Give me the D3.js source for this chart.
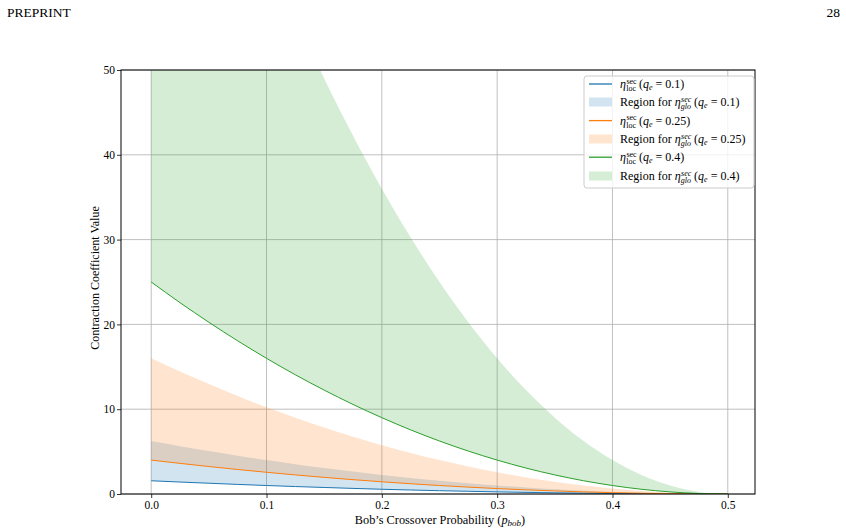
<!DOCTYPE html>
<html><head><meta charset="utf-8">
<script src="https://cdn.jsdelivr.net/npm/d3@7"></script>
<style>
body{margin:0;background:#fff;}
svg text{font-family:"Liberation Serif","Times New Roman",serif;fill:#000;}
</style></head>
<body><svg id="c" width="846" height="532"></svg>
<script>
// Bob's crossover probability
const pBob = [0,0.025,0.05,0.075,0.1,0.125,0.15,0.175,0.2,0.225,0.25,0.275,0.3,0.325,0.35,0.375,0.4,0.425,0.45,0.475,0.5];
// eta_loc^sec curves
const locQ01  = [1.56,1.41,1.27,1.13,1.00,0.88,0.77,0.66,0.56,0.47,0.39,0.32,0.25,0.19,0.14,0.10,0.06,0.04,0.02,0.00,0];
const locQ025 = [4,3.61,3.24,2.89,2.56,2.25,1.96,1.69,1.44,1.21,1,0.81,0.64,0.49,0.36,0.25,0.16,0.09,0.04,0.01,0];
const locQ04  = [25,22.56,20.25,18.06,16,14.06,12.25,10.56,9,7.56,6.25,5.06,4,3.06,2.25,1.56,1,0.56,0.25,0.06,0];
// upper edges of eta_glo^sec regions
const gloUpQ01  = [6.25,5.64,5.06,4.52,4.0,3.52,3.06,2.64,2.25,1.89,1.56,1.27,1.0,0.77,0.56,0.39,0.25,0.14,0.06,0.02,0];
const gloUpQ025 = [16,14.44,12.96,11.56,10.24,9,7.84,6.76,5.76,4.84,4,3.24,2.56,1.96,1.44,1,0.64,0.36,0.16,0.04,0];
const gloUpQ04  = [100,90.25,81,72.25,64,56.25,49,42.25,36,30.25,25,20.25,16,12.25,9,6.25,4,2.25,1,0.25,0];
const xTicks = [0,0.1,0.2,0.3,0.4,0.5];
const yTicks = [0,10,20,30,40,50];
const qLabels = ["0.1","0.25","0.4"];
const colors = ["#1f77b4","#ff7f0e","#2ca02c"];

const svg = d3.select("#c");
const L=121,R=755,T=70,B=494;
const x = d3.scaleLinear().domain([-0.0262,0.5236]).range([L,R]);
const y = d3.scaleLinear().domain([0,50]).range([B,T]);

svg.append("text").attr("x",7).attr("y",17).attr("font-size",13.5).text("PREPRINT");
svg.append("text").attr("x",840).attr("y",17).attr("font-size",13.5).attr("text-anchor","end").text("28");

svg.append("defs").append("clipPath").attr("id","clip").append("rect")
  .attr("x",L).attr("y",T).attr("width",R-L).attr("height",B-T);

// grid
const g = svg.append("g");
g.selectAll(".gx").data(xTicks).join("line").attr("x1",d=>x(d)).attr("x2",d=>x(d))
  .attr("y1",T).attr("y2",B).attr("stroke","#b0b0b0").attr("stroke-width",0.8);
g.selectAll(".gy").data(yTicks).join("line").attr("y1",d=>y(d)).attr("y2",d=>y(d))
  .attr("x1",L).attr("x2",R).attr("stroke","#b0b0b0").attr("stroke-width",0.8);

const plot = svg.append("g").attr("clip-path","url(#clip)");
const sets = [[locQ01,gloUpQ01],[locQ025,gloUpQ025],[locQ04,gloUpQ04]];
const curve = d3.curveMonotoneX;
sets.forEach(([lo,up],i)=>{
  const area = d3.area().x((d,j)=>x(pBob[j])).y0((d,j)=>y(lo[j])).y1((d,j)=>y(up[j])).curve(curve);
  const line = d3.line().x((d,j)=>x(pBob[j])).y((d,j)=>y(lo[j])).curve(curve);
  plot.append("path").datum(pBob).attr("d",line).attr("fill","none").attr("stroke",colors[i]).attr("stroke-width",1);
  plot.append("path").datum(pBob).attr("d",area).attr("fill",colors[i]).attr("fill-opacity",0.2);
});

// axes
const xa = svg.append("g").attr("transform",`translate(0,${B})`)
  .call(d3.axisBottom(x).tickValues(xTicks).tickFormat(d3.format(".1f")).tickSize(4).tickSizeOuter(0));
const ya = svg.append("g").attr("transform",`translate(${L},0)`)
  .call(d3.axisLeft(y).tickValues(yTicks).tickFormat(d3.format("d")).tickSize(4).tickSizeOuter(0));
[xa,ya].forEach(a=>{a.select(".domain").remove();a.selectAll("text").attr("font-size",11.5).attr("font-family","Liberation Serif");a.selectAll("line").attr("stroke","#000").attr("stroke-width",0.8);});
xa.selectAll("text").attr("dy","0.75em").attr("y",6);
ya.selectAll("text").attr("x",-6);
svg.append("rect").attr("x",L).attr("y",T).attr("width",R-L).attr("height",B-T)
  .attr("fill","none").attr("stroke","#000").attr("stroke-width",1);

// axis labels
const xl = svg.append("text").attr("x",(L+R)/2+2).attr("y",524).attr("text-anchor","middle").attr("font-size",12.3);
xl.append("tspan").text("Bob’s Crossover Probability (");
xl.append("tspan").attr("font-style","italic").text("p");
xl.append("tspan").attr("font-style","italic").attr("font-size",9).attr("dy",2).text("bob");
xl.append("tspan").attr("dy",-2).text(")");
svg.append("text").attr("transform",`translate(99,${(T+B)/2-4}) rotate(-90)`).attr("text-anchor","middle")
  .attr("font-size",12).text("Contraction Coefficient Value");

// legend
const lg = svg.append("g").attr("transform","translate(584,76)");
lg.append("rect").attr("width",170).attr("height",112).attr("rx",3).attr("fill","#fff").attr("fill-opacity",0.8)
  .attr("stroke","#cccccc").attr("stroke-width",1);
const rowH = 18.3;
qLabels.forEach((q,i)=>{
  const y1 = 8 + (2*i)*rowH, y2 = Math.round(8 + (2*i+1)*rowH);
  lg.append("line").attr("x1",5).attr("x2",28).attr("y1",y1).attr("y2",y1).attr("stroke",colors[i]).attr("stroke-width",1.3);
  lg.append("rect").attr("x",5).attr("y",y2-4.5).attr("width",23).attr("height",9).attr("fill",colors[i]).attr("fill-opacity",0.2);
  const t1 = lg.append("text").attr("x",36).attr("y",y1+4).attr("font-size",12);
  t1.append("tspan").attr("font-style","italic").text("η");
  t1.append("tspan").attr("font-size",8).attr("dy",-4.5).attr("dx",0.5).text("sec");
  t1.append("tspan").attr("font-size",8).attr("dy",7.5).attr("dx",-10.5).text("loc");
  t1.append("tspan").attr("dy",-3).text(" (");
  t1.append("tspan").attr("font-style","italic").text("q");
  t1.append("tspan").attr("font-style","italic").attr("font-size",8).attr("dy",2).text("e");
  t1.append("tspan").attr("dy",-2).text(" = "+q+")");
  const t2 = lg.append("text").attr("x",36).attr("y",y2+4).attr("font-size",12);
  t2.append("tspan").text("Region for ");
  t2.append("tspan").attr("font-style","italic").text("η");
  t2.append("tspan").attr("font-style","italic").attr("font-size",8).attr("dy",-4.5).attr("dx",0.5).text("sec");
  t2.append("tspan").attr("font-style","italic").attr("font-size",8).attr("dy",7.5).attr("dx",-10.5).text("glo");
  t2.append("tspan").attr("dy",-3).text(" (");
  t2.append("tspan").attr("font-style","italic").text("q");
  t2.append("tspan").attr("font-style","italic").attr("font-size",8).attr("dy",2).text("e");
  t2.append("tspan").attr("dy",-2).text(" = "+q+")");
});
</script></body></html>
